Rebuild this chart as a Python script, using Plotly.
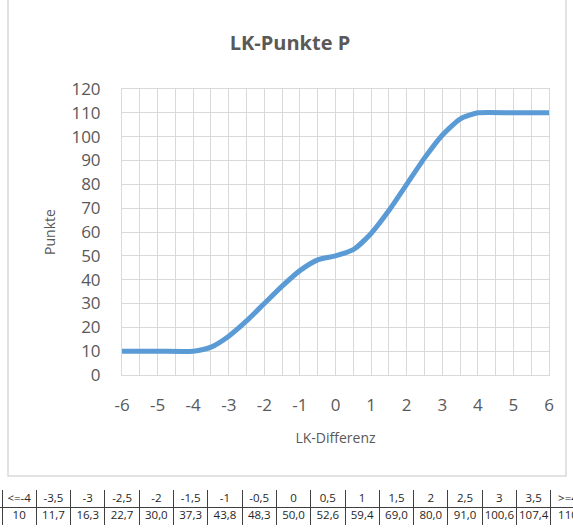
import plotly.graph_objects as go

# Table data (from the sheet below the chart)
table_labels = ["<=-4", "-3,5", "-3", "-2,5", "-2", "-1,5", "-1", "-0,5", "0",
                "0,5", "1", "1,5", "2", "2,5", "3", "3,5", ">=4"]
table_values = [10, 11.7, 16.3, 22.7, 30.0, 37.3, 43.8, 48.3, 50.0,
                52.6, 59.4, 69.0, 80.0, 91.0, 100.6, 107.4, 110]

# Curve data
lk_diff = [-6, -5, -4, -3.5, -3, -2.5, -2, -1.5, -1, -0.5, 0,
           0.5, 1, 1.5, 2, 2.5, 3, 3.5, 4, 5, 6]
punkte = [10, 10, 10, 11.7, 16.3, 22.7, 30.0, 37.3, 43.8, 48.3, 50.0,
          52.6, 59.4, 69.0, 80.0, 91.0, 100.6, 107.4, 110, 110, 110]

# Axis ticks
x_ticks = [-6, -5, -4, -3, -2, -1, 0, 1, 2, 3, 4, 5, 6]
x_tick_labels = ["-6", "-5", "-4", "-3", "-2", "-1", "0", "1", "2", "3", "4", "5", "6"]

W, H = 573, 529
FONT = "Open Sans"
GRAY = "#595959"
GRID = "#D9D9D9"
TBL = "#404040"

fig = go.Figure()

fig.add_trace(go.Scatter(
    x=lk_diff, y=punkte, mode="lines",
    line=dict(color="#5B9BD5", width=5, shape="spline", smoothing=0.6),
    hoverinfo="x+y", showlegend=False,
    xaxis="x", yaxis="y",
))

# Table drawn on its own axes: columns are integer slots, rows are 0 (header) and 1 (values)
n = len(table_labels)
fmt = [("%.1f" % v).replace(".", ",") if i not in (0, n - 1) else str(int(v))
       for i, v in enumerate(table_values)]
col_centers = [i + 0.5 for i in range(n)]

fig.add_trace(go.Scatter(
    x=col_centers + col_centers,
    y=[0.5] * n + [1.5] * n,
    text=table_labels + fmt,
    mode="text", textposition="middle center",
    textfont=dict(family=FONT, size=11.5, color="#262626"),
    hoverinfo="skip", showlegend=False,
    xaxis="x2", yaxis="y2",
))

x0, x1 = 122 / W, 549 / W
y0, y1 = (H - 375) / H, (H - 89) / H
col_w = 34.3
tbl_left = 2.0

fig.update_layout(
    width=W, height=H,
    margin=dict(l=0, r=0, t=0, b=0),
    paper_bgcolor="white", plot_bgcolor="white",
    font=dict(family=FONT, color=GRAY),
    title=dict(text="<b>LK-Punkte P</b>", x=290 / W, xanchor="center",
               y=1 - 43 / H, yanchor="middle",
               font=dict(family=FONT, size=20, color=GRAY)),
    xaxis=dict(domain=[x0, x1], range=[-6, 6],
               tickmode="array", tickvals=x_ticks, ticktext=x_tick_labels,
               showgrid=True, gridcolor=GRID, gridwidth=1,
               minor=dict(dtick=0.5, tick0=-6, showgrid=True, gridcolor=GRID, gridwidth=1),
               zeroline=False, showline=True, linecolor=GRID, mirror=True,
               ticks="", tickfont=dict(size=17, color=GRAY), ticklabelstandoff=15,
               title=dict(text="LK-Differenz", font=dict(size=14, color=GRAY), standoff=17),
               anchor="y", fixedrange=True, automargin=False),
    yaxis=dict(domain=[y0, y1], range=[0, 120], dtick=10,
               showgrid=True, gridcolor=GRID, gridwidth=1,
               zeroline=False, showline=True, linecolor=GRID, mirror=True,
               ticks="", tickfont=dict(size=17, color=GRAY), ticklabelstandoff=17,
               title=dict(text="Punkte", font=dict(size=14, color=GRAY), standoff=12),
               anchor="x", fixedrange=True, automargin=False),
    xaxis2=dict(domain=[0, 1], range=[-tbl_left / col_w, (W - tbl_left) / col_w],
                tickmode="array", tickvals=list(range(n + 1)),
                showticklabels=False, ticks="",
                showgrid=True, gridcolor=TBL, gridwidth=1,
                zeroline=False, showline=False,
                anchor="y2", fixedrange=True),
    yaxis2=dict(domain=[(H - 525) / H, (H - 490) / H], range=[2, 0],
                tickmode="array", tickvals=[0, 1, 2],
                showticklabels=False, ticks="",
                showgrid=True, gridcolor=TBL, gridwidth=1,
                zeroline=False, showline=False,
                anchor="x2", fixedrange=True),
    shapes=[dict(type="rect", xref="paper", yref="paper",
                 x0=8 / W, x1=566 / W, y0=(H - 476) / H, y1=1.01,
                 line=dict(color=GRID, width=1.5), fillcolor="rgba(0,0,0,0)",
                 layer="below")],
)

fig.write_html(
    "out.html",
    config={"displayModeBar": False},
    post_script="document.body.style.margin='0';document.body.style.overflow='hidden';",
)
